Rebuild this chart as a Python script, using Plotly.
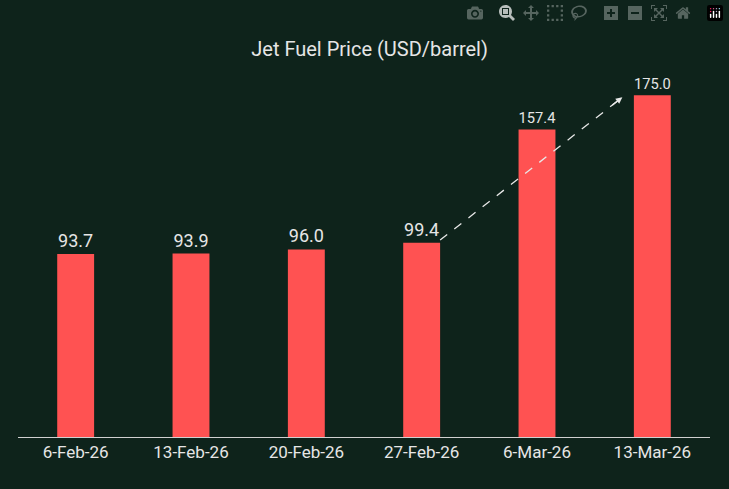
import plotly.graph_objects as go

dates = ["6-Feb-26", "13-Feb-26", "20-Feb-26", "27-Feb-26", "6-Mar-26", "13-Mar-26"]
prices = [93.7, 93.9, 96.0, 99.4, 157.4, 175.0]

fig = go.Figure(go.Bar(
    x=list(range(len(dates))), y=prices, width=0.32,
    marker=dict(color="#ff5252", line=dict(width=0)),
    text=[f"{v:.1f}" for v in prices], textposition="outside",
    textfont=dict(color="#e6e6e6", size=18, family="Roboto"),
    cliponaxis=False,
))

x0, y0, x1, y1 = 3.16, 100.8, 4.72, 173.0
fig.add_shape(type="line", x0=x0, y0=y0, x1=x1, y1=y1, xref="x", yref="y",
              line=dict(color="#e8e8e8", width=1.3, dash="dash"))
fig.add_annotation(x=x1 + 0.02, y=y1 + 0.9, ax=x1 - 0.08, ay=y1 - 3.7,
                   xref="x", yref="y", axref="x", ayref="y", text="",
                   showarrow=True, arrowhead=2, arrowsize=1, arrowwidth=1.3,
                   arrowcolor="#e8e8e8")

fig.update_layout(
    width=729, height=489,
    paper_bgcolor="#0e231b", plot_bgcolor="rgba(0,0,0,0)",
    margin=dict(l=18, r=19, t=60, b=52),
    title=dict(text="Jet Fuel Price (USD/barrel)", x=0.507, y=0.915, xanchor="center",
               font=dict(color="#e6e6e6", size=20, family="Roboto")),
    showlegend=False,
    xaxis=dict(range=[-0.5, 5.5], tickmode="array", tickvals=list(range(len(dates))),
               ticktext=dates, showgrid=False, zeroline=False, showline=True,
               linecolor="#d0d0d0", linewidth=1, ticks="",
               tickfont=dict(color="#e6e6e6", size=17, family="Roboto")),
    yaxis=dict(range=[0, 193], visible=False),
)
fig.write_html("out.html",
               post_script="document.body.style.margin='0';document.body.style.background='#0e231b';")
